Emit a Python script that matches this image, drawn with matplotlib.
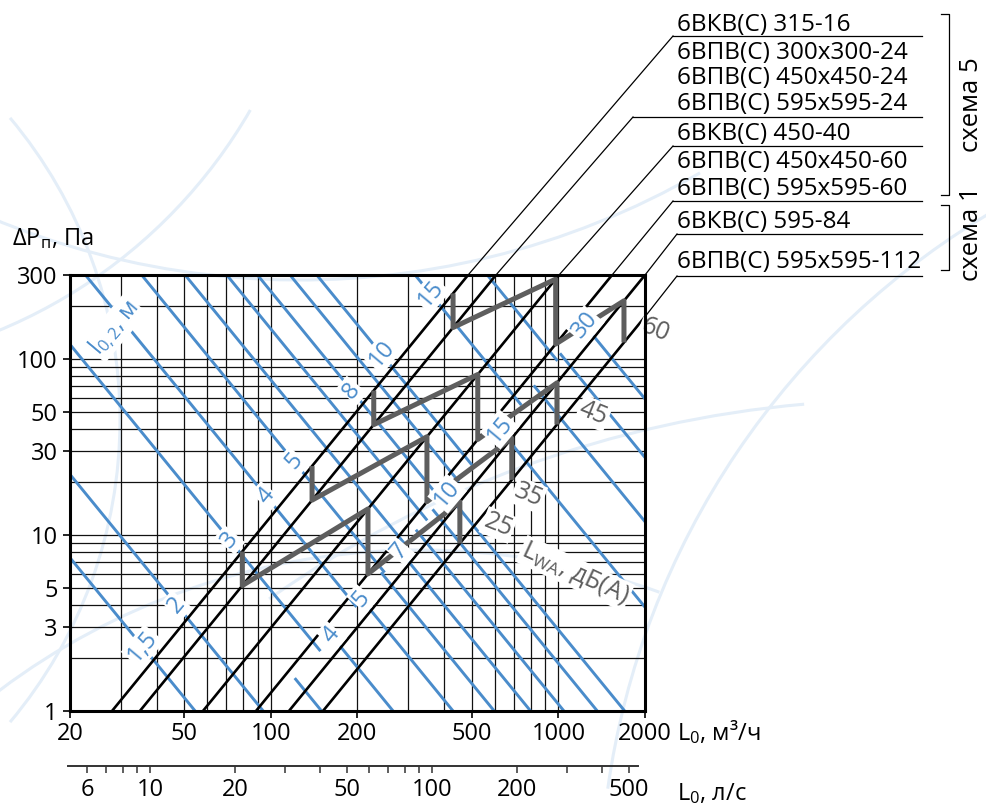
import matplotlib.pyplot as plt
import numpy as np
from matplotlib.lines import Line2D
from matplotlib.patches import Arc
from matplotlib.transforms import IdentityTransform

plt.rcParams['font.family'] = ['Open Sans', 'DejaVu Sans']
plt.rcParams['mathtext.fontset'] = 'custom'
plt.rcParams['mathtext.rm'] = 'Open Sans'
plt.rcParams['mathtext.it'] = 'Open Sans'

W, H = 986, 807
BLUE = '#4a8ccb'
GRAY = '#5e5e5e'

# diffuser lines: flow (m3/h) at 1 Pa, dP = (L/K)^2
line_k = [28, 35, 58, 88.7, 115.5, 151.7]
line_names = ['6ВКВ(С) 315-16', '6ВПВ(С) 300x300-24', '6ВПВ(С) 450x450-24',
              '6ВПВ(С) 595x595-24', '6ВКВ(С) 450-40', '6ВПВ(С) 450x450-60',
              '6ВПВ(С) 595x595-60', '6ВКВ(С) 595-84', '6ВПВ(С) 595x595-112']

# sound power zigzags: flows of the steps between neighbouring lines
lwa_levels = ['25', '35', '45', '60']
lwa_flows = [[79.5, 217.5, 454], [139, 348.8, 688],
             [227.8, 524, 988], [430, 978, 1690]]
lwa_label_pos = [(618, 11.4), (786, 16.9), (1324, 49.1), (2168, 146)]

# throw lines l_0,2: dP = (C/L)^2, upper family left of split, lower right of it
throw_split_k = 99
throw_upper_c = [54.5, 94, 220, 392, 615, 871, 1216, 1555, 2018, 2500, 5495, 9800]
throw_lower_c = [150, 266, 430, 598, 800, 1045, 1365, 1700, 3945, 6900, 10500, 15400]
upper_labels = ['1,5', '2', '3', '4', '5', '8', '10', '15']
upper_label_c = [54.5, 94, 220, 392, 615, 1555, 2500, 5495]
lower_labels = ['4', '5', '7', '10', '15', '30']
lower_label_c = [266, 430, 800, 1700, 3945, 15400]

grid_x = list(range(20, 100, 10)) + list(range(100, 1001, 100)) + [2000]
grid_y = list(range(1, 10)) + list(range(10, 101, 10)) + [200, 300]
ticks_x = [20, 50, 100, 200, 500, 1000, 2000]
ticks_y = [1, 3, 5, 10, 30, 50, 100, 300]
ticks_ls = [6, 7, 8, 9, 10, 20, 30, 40, 50, 60, 70, 80, 90, 100, 200, 300, 400, 500]
labels_ls = [6, 10, 20, 50, 100, 200, 500]


def fx(x):
    return x / W


def fy(y):
    return 1 - y / H


fig = plt.figure(figsize=(W / 100, H / 100), dpi=100)

# faint background swooshes (decoration)
for cx, cy, r, t1, t2 in [(420, 1250, 700, 70, 140), (-350, 420, 470, -40, 40),
                          (1400, 900, 800, 120, 172), (300, -520, 800, 235, 300),
                          (900, 1500, 1100, 95, 125), (-200, -150, 520, 275, 330)]:
    fig.add_artist(Arc((cx, H - cy), 2 * r, 2 * r, theta1=t1, theta2=t2,
                       transform=IdentityTransform(), color='#e4eef8', lw=2.2, zorder=0))

ax = fig.add_axes([fx(70), fy(711), 575 / W, 436 / H])
ax.patch.set_alpha(0)
ax.set_xscale('log')
ax.set_yscale('log')
ax.set_xlim(20, 2000)
ax.set_ylim(1, 300)

for v in grid_x:
    ax.axvline(v, color='#111111', lw=0.9, zorder=1)
for v in grid_y:
    ax.axhline(v, color='#111111', lw=0.9, zorder=1)

ax.set_xticks(ticks_x, [str(t) for t in ticks_x])
ax.set_yticks(ticks_y, [str(t) for t in ticks_y])
ax.minorticks_off()
ax.tick_params(axis='both', direction='out', length=5, width=1.2, labelsize=17, pad=3)
ax.tick_params(axis='y', pad=4)
for s in ax.spines.values():
    s.set_linewidth(2.2)
    s.set_zorder(7)

# throw lines
for c in throw_upper_c:
    ls = np.array([5.0, np.sqrt(throw_split_k * c)])
    ax.plot(ls, (c / ls) ** 2, color=BLUE, lw=2.1, zorder=2)
for c in throw_lower_c:
    ls = np.array([np.sqrt(throw_split_k * c), 5000.0])
    ax.plot(ls, (c / ls) ** 2, color=BLUE, lw=2.1, zorder=2)

# diffuser lines
for k in line_k:
    ls = np.array([5.0, 5000.0])
    ax.plot(ls, (ls / k) ** 2, color='black', lw=1.9, zorder=3)

# L_WA zigzags
for flows in lwa_flows:
    xs, ys = [], []
    for j, q in enumerate(flows):
        xs += [q, q]
        ys += [(q / line_k[2 * j]) ** 2, (q / line_k[2 * j + 1]) ** 2]
    ax.plot(xs, ys, color=GRAY, lw=3.6, zorder=4, solid_capstyle='butt')

box = dict(fc='white', ec='none', pad=1.0)
for txt, c in zip(upper_labels, upper_label_c):
    q = np.sqrt(23.5 * c)
    ax.text(q, (c / q) ** 2, txt, color=BLUE, fontsize=17, rotation=50,
            rotation_mode='anchor', ha='center', va='center', bbox=box, zorder=6)
for txt, c in zip(lower_labels, lower_label_c):
    q = np.sqrt(throw_split_k * c)
    ax.text(q, (c / q) ** 2, txt, color=BLUE, fontsize=17, rotation=50,
            rotation_mode='anchor', ha='center', va='center', bbox=box, zorder=6)
ax.text(28.6, 150, 'l$_{0,2}$, м', color=BLUE, fontsize=17, rotation=50,
        rotation_mode='anchor', ha='center', va='center', bbox=box, zorder=6)

for txt, (q, p) in zip(lwa_levels, lwa_label_pos):
    ax.text(q, p, txt, color=GRAY, fontsize=18, rotation=-22, rotation_mode='anchor',
            ha='center', va='center', bbox=box, zorder=6, clip_on=False)
ax.text(1142, 6.06, 'L$_{WA}$, дБ(А)', color=GRAY, fontsize=18, rotation=-25,
        rotation_mode='anchor', ha='center', va='center', bbox=box, zorder=6)

# leaders to the type labels
under_start = [(673, 36), (633, 117), (673, 146), (673, 201), (677, 234), (677, 276)]
fig.canvas.draw()
for k, (ux, uy) in zip(line_k, under_start):
    q = k * np.sqrt(300)
    p = 300
    if q > 2000:
        q = 2000
        p = (q / k) ** 2
    dx, dy = ax.transData.transform((q, p))
    fig.add_artist(Line2D([dx / W, fx(ux)], [dy / H, fy(uy)], color='black', lw=0.9,
                          transform=fig.transFigure))
    fig.add_artist(Line2D([fx(ux), fx(922)], [fy(uy), fy(uy)], color='black', lw=0.9,
                          transform=fig.transFigure))

name_base = [31, 59, 84, 110, 140, 168, 195, 228, 268]
for name, b in zip(line_names, name_base):
    fig.text(fx(677), fy(b), name, fontsize=17.5, ha='left', va='baseline')

for y0, y1 in [(14, 195), (205, 270)]:
    fig.add_artist(Line2D([fx(941), fx(949), fx(949), fx(941)],
                          [fy(y0), fy(y0), fy(y1), fy(y1)], color='black', lw=0.9,
                          transform=fig.transFigure))
fig.text(fx(971), fy(105), 'схема 5', fontsize=18.5, rotation=90, ha='center', va='center')
fig.text(fx(971), fy(234), 'схема 1', fontsize=18.5, rotation=90, ha='center', va='center')

fig.text(fx(12), fy(245), 'ΔP$_{п}$, Па', fontsize=17, ha='left', va='baseline')
fig.text(fx(677), fy(740), 'L$_0$, м³/ч', fontsize=17, ha='left', va='baseline')
fig.text(fx(677), fy(800), 'L$_0$, л/с', fontsize=17, ha='left', va='baseline')

# second flow scale, l/s
ax2 = fig.add_axes([fx(68), fy(766), 570 / W, 0.0001])
ax2.set_xscale('log')
ax2.set_xlim(5.12, 537.7)
ax2.set_yticks([])
for s in ['top', 'left', 'right']:
    ax2.spines[s].set_visible(False)
ax2.spines['bottom'].set_color('#333333')
ax2.spines['bottom'].set_linewidth(1.4)
ax2.set_xticks(ticks_ls, [str(t) if t in labels_ls else '' for t in ticks_ls])
ax2.minorticks_off()
ax2.tick_params(axis='x', direction='out', length=5, width=1.1, color='#333333',
                labelsize=17, pad=4)
ax2.patch.set_alpha(0)

fig.savefig('out.png', dpi=100)
